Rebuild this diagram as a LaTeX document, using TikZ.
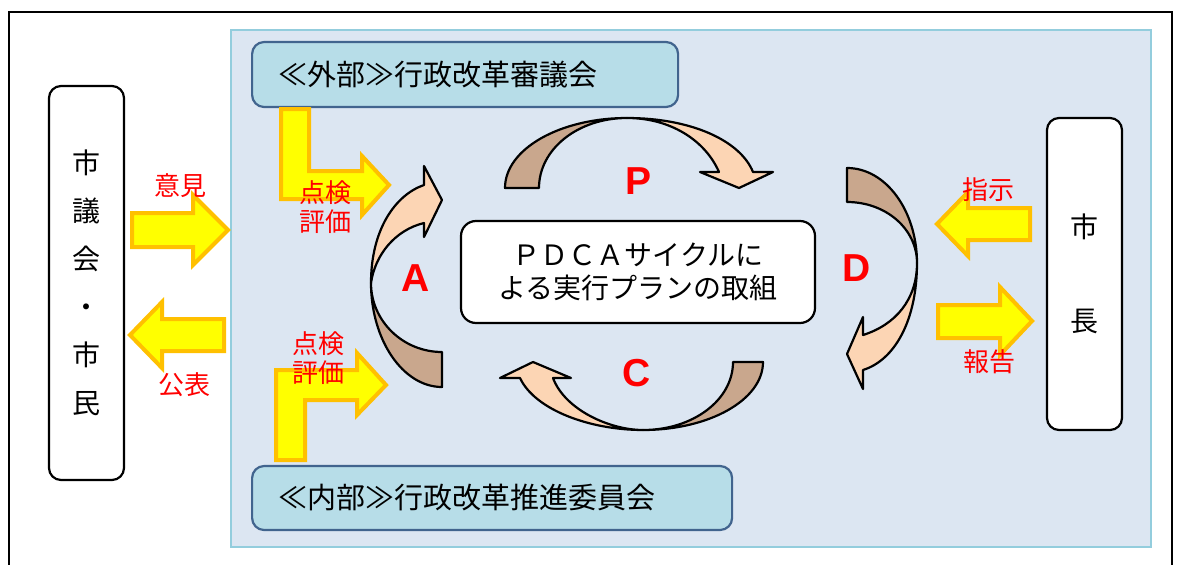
\documentclass[tikz,border=0pt]{standalone}
\usepackage{fontspec}
\setmainfont{Liberation Sans}
\newfontfamily\jp{Noto Sans CJK JP}
\definecolor{panel}{HTML}{DCE6F2}
\definecolor{panelb}{HTML}{93CDDD}
\definecolor{boxfill}{HTML}{B7DDE8}
\definecolor{boxline}{HTML}{41648E}
\definecolor{darkband}{HTML}{C9A78D}
\definecolor{lightband}{HTML}{FCD5B4}
\definecolor{ylw}{HTML}{FFFF00}
\definecolor{ylwb}{HTML}{FFC000}
\begin{document}
\begin{tikzpicture}[x=1pt,y=-1pt,
  sidebox/.style={draw=black, line width=2.2pt, fill=white, rounded corners=12pt, inner sep=0pt,
    font=\jp\fontsize{28}{48}\selectfont, align=center},
  committee/.style={draw=boxline, line width=2.2pt, fill=boxfill, rounded corners=12pt,
    anchor=west, inner xsep=26pt, inner ysep=0pt, align=left, font=\jp\fontsize{29}{32}\selectfont},
  redlbl/.style={font=\jp\fontsize{26}{29}\selectfont, text=red, inner sep=0pt, align=center},
  band/.style={draw=black, line width=2.2pt, line join=round},
  blk/.style={fill=ylw, draw=ylwb, line width=4pt, line join=miter},
  phase/.style={font=\bfseries\fontsize{39}{40}\selectfont, text=red, inner sep=0pt}
]
\useasboundingbox (0,0) rectangle (1184,565);
% outer frame
\draw[line width=2pt] (9,570) -- (9,12) -- (1172,12) -- (1172,570);
% panel
\draw[fill=panel, draw=panelb, line width=2.5pt] (231,30) rectangle (1151,547);

% committees
\node[committee, text width=374pt, minimum height=65pt] (ext) at (251,74.5) {≪外部≫行政改革審議会};
\node[committee, text width=428pt, minimum height=64pt] (int) at (251,498) {≪内部≫行政改革推進委員会};

% side boxes
\node[sidebox, minimum width=75pt, minimum height=394pt] (citizens) at (86.5,283) {市\\議\\会\\・\\市\\民};
\node[sidebox, minimum width=75pt, minimum height=312pt, font=\jp\fontsize{28}{94}\selectfont] (mayor) at (1084.5,274) {市\\長};

% center box
\node[draw=black, line width=2.2pt, fill=white, rounded corners=15pt, minimum width=354pt, minimum height=102pt,
  font=\jp\fontsize{28}{33}\selectfont, align=center, inner sep=0pt] (pdca) at (638,272)
  {ＰＤＣＡサイクルに\\よる実行プランの取組};

% P arrow
\fill[darkband, band] (505,188) .. controls (505,149) and (560,118) .. (627,118)
  .. controls (578,118) and (539,149) .. (539,188) -- cycle;
\fill[lightband, band] (627,118) .. controls (690,118) and (740,140) .. (753,172)
  -- (773,172) -- (739,188) -- (700,172) -- (719,172)
  .. controls (705,140) and (670,118) .. (627,118) -- cycle;
% D arrow
\fill[darkband, band] (847,168) .. controls (886,168) and (917,211) .. (917,263)
  .. controls (917,229) and (886,202) .. (847,202) -- cycle;
\fill[lightband, band] (917,263) .. controls (917,320) and (895,360) .. (863,370)
  -- (863,389) -- (847,354) -- (863,317) -- (863,335)
  .. controls (895,325) and (917,300) .. (917,263) -- cycle;
% C arrow
\fill[darkband, band] (763,362) .. controls (763,400) and (709,430) .. (643,430)
  .. controls (693,430) and (733,400) .. (733,362) -- cycle;
\fill[lightband, band] (643,430) .. controls (590,430) and (535,410) .. (520,378)
  -- (500,378) -- (533,362) -- (571,378) -- (553,378)
  .. controls (565,410) and (610,430) .. (643,430) -- cycle;
% A arrow
\fill[darkband, band] (442,387) .. controls (403,387) and (371,340) .. (371,283)
  .. controls (371,321) and (403,352) .. (442,352) -- cycle;
\fill[lightband, band] (371,283) .. controls (371,230) and (395,195) .. (424,185)
  -- (424,166) -- (442,200) -- (424,237) -- (424,223)
  .. controls (395,230) and (375,255) .. (371,283) -- cycle;

\node[phase] (P) at (638,181) {P};
\node[phase] (D) at (857,268) {D};
\node[phase] (C) at (637,373) {C};
\node[phase] (A) at (416,278) {A};

% yellow block arrows
\draw[blk] (132,213) -- (193,213) -- (193,195) -- (228,230) -- (193,265) -- (193,247) -- (132,247) -- cycle;
\draw[blk] (224,319) -- (162,319) -- (162,302) -- (130,335) -- (162,368) -- (162,351) -- (224,351) -- cycle;
\draw[blk] (1030,208) -- (968,208) -- (968,192) -- (937,224) -- (968,256) -- (968,240) -- (1030,240) -- cycle;
\draw[blk] (938,305) -- (1000,305) -- (1000,287) -- (1032,321) -- (1000,355) -- (1000,338) -- (938,338) -- cycle;
\draw[blk] (281,109) -- (309,109) -- (309,171) -- (362,171) -- (362,156) -- (389,185) -- (362,215) -- (362,199) -- (281,199) -- cycle;
\draw[blk] (276,460) -- (276,370) -- (357,370) -- (357,353) -- (386,385) -- (357,415) -- (357,400) -- (305,400) -- (305,460) -- cycle;

% red labels
\node[redlbl] (iken) at (180,186) {意見};
\node[redlbl] (kohyo) at (184,385) {公表};
\node[redlbl] (shiji) at (988,190) {指示};
\node[redlbl] (hokoku) at (989,362) {報告};
\node[redlbl] (eval1a) at (325,193) {点検};
\node[redlbl] (eval1b) at (325,222) {評価};
\node[redlbl] (eval2a) at (318,344) {点検};
\node[redlbl] (eval2b) at (318,373) {評価};
\end{tikzpicture}
\end{document}
